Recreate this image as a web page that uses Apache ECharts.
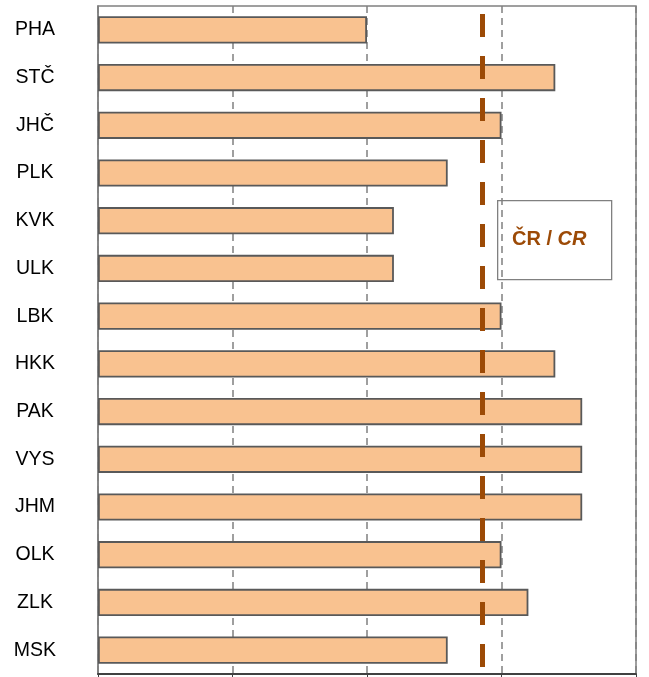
<!DOCTYPE html>
<html><head><meta charset="utf-8">
<script src="https://cdn.jsdelivr.net/npm/echarts@6/dist/echarts.min.js"></script>
<style>html,body{margin:0;padding:0;background:#fff}#c{width:649px;height:677px}</style>
</head><body><div id="c"></div>
<script>
const categories = ['PHA','STČ','JHČ','PLK','KVK','ULK','LBK','HKK','PAK','VYS','JHM','OLK','ZLK','MSK'];
const values = [2.0, 3.4, 3.0, 2.6, 2.2, 2.2, 3.0, 3.4, 3.6, 3.6, 3.6, 3.0, 3.2, 2.6];
const crValue = 2.86;
const crLabel = 'ČR / ';
const crLabelItalic = 'CR';

const chart = echarts.init(document.getElementById('c'));
chart.setOption({
  animation: false,
  grid: {left: 98, right: 13, top: 6, bottom: 3, show: true, borderColor: '#808080', borderWidth: 1.5},
  xAxis: {
    type: 'value', min: 0, max: 4, interval: 1,
    axisLabel: {show: false},
    axisLine: {show: true, lineStyle: {color: '#404040', width: 2}},
    axisTick: {show: true, length: 4, lineStyle: {color: '#404040'}},
    splitLine: {show: true, lineStyle: {color: '#808080', type: [7, 5], width: 1.5}}
  },
  yAxis: {
    type: 'category', data: categories, inverse: true,
    axisLine: {show: true, lineStyle: {color: '#808080', width: 1.5}},
    axisTick: {show: false},
    axisLabel: {color: '#000', fontFamily: 'Liberation Sans, Arial', fontSize: 19.5, align: 'center', margin: 63}
  },
  series: [{
    type: 'bar', data: values, barCategoryGap: '43%',
    itemStyle: {color: '#F9C290', borderColor: '#595959', borderWidth: 1.8},
    markLine: {
      silent: true, symbol: 'none', label: {show: false},
      lineStyle: {color: '#9C4A06', width: 5, type: [23, 19], dashOffset: -8},
      data: [{xAxis: crValue}]
    }
  }],
  graphic: [{
    type: 'rect', left: 497, top: 200,
    shape: {width: 114, height: 79},
    style: {fill: '#fff', stroke: '#808080', lineWidth: 1.3}
  }, {
    type: 'text', left: 512, top: 229,
    style: {
      text: '{b|' + crLabel + '}{i|' + crLabelItalic + '}',
      rich: {
        b: {fontFamily: 'Liberation Sans, Arial', fontSize: 20, fontWeight: 'bold', fill: '#9C4A06', color: '#9C4A06'},
        i: {fontFamily: 'Liberation Sans, Arial', fontSize: 20, fontWeight: 'bold', fontStyle: 'italic', fill: '#9C4A06', color: '#9C4A06'}
      }
    }
  }]
});
</script></body></html>
